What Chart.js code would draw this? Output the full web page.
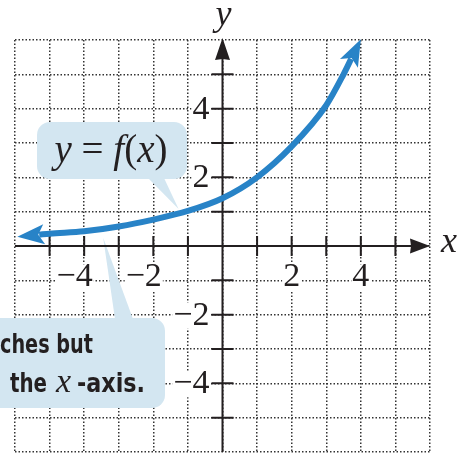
<!DOCTYPE html>
<html>
<head>
<meta charset="utf-8">
<script src="https://cdn.jsdelivr.net/npm/chart.js@4.4.0/dist/chart.umd.min.js"></script>
<style>
  html, body { margin: 0; padding: 0; background: #fff; }
</style>
</head>
<body>
<canvas id="graph" width="469" height="456"></canvas>
<script>
// curve (x, y in grid units)
const curveX = [-5.3, -5, -4, -3, -2, -1, 0, 1, 2, 3, 3.5, 3.72];
const curveY = [0.33, 0.36, 0.43, 0.57, 0.77, 1.02, 1.39, 2.0, 2.9, 4.1, 5.0, 5.45];
const axisTicks = [-5, -4, -3, -2, -1, 1, 2, 3, 4, 5];
const xTickLabels = [-4, -2, 2, 4];
const yTickLabels = [4, 2, -2, -4];

const SERIF = '"Liberation Serif", "Times New Roman", serif';
const SANS = '"Liberation Sans Narrow", "DejaVu Sans Condensed", "Roboto Condensed", sans-serif';
const INK = "#231f20";
const BUBBLE = "#d3e6f1";
const BLUE = "#2883c7";

function arrowHead(ctx, x, y, ux, uy, len, half, back) {
  const nx = -uy, ny = ux;
  ctx.beginPath();
  ctx.moveTo(x + ux * len, y + uy * len);
  ctx.lineTo(x - ux * back + nx * half, y - uy * back + ny * half);
  ctx.lineTo(x + ux * 1, y + uy * 1);
  ctx.lineTo(x - ux * back - nx * half, y - uy * back - ny * half);
  ctx.closePath();
  ctx.fill();
}

function bubble(ctx, x, y, w, h, tail) {
  ctx.fillStyle = BUBBLE;
  ctx.beginPath();
  ctx.roundRect(x, y, w, h, 13);
  ctx.fill();
  ctx.beginPath();
  ctx.moveTo(tail[0], tail[1]);
  ctx.lineTo(tail[2], tail[3]);
  ctx.lineTo(tail[4], tail[5]);
  ctx.closePath();
  ctx.fill();
}

function maskedText(ctx, text, x, y) {
  const w = ctx.measureText(text).width;
  ctx.fillStyle = "#fff";
  ctx.fillRect(x - w - 1, y - 13, w + 2, 26);
  ctx.fillStyle = INK;
  ctx.fillText(text, x, y);
}

const drawing = {
  id: "drawing",
  beforeDatasetsDraw(chart) {
    const ctx = chart.ctx;
    const sx = chart.scales.x, sy = chart.scales.y;
    const px = v => sx.getPixelForValue(v);
    const py = v => sy.getPixelForValue(v);
    const ox = px(0), oy = py(0);
    ctx.save();

    // callout bubbles
    bubble(ctx, 37, 122, 150, 57, [148, 178, 164, 178, px(-1.27), py(1.08)]);
    bubble(ctx, -20, 318, 185, 90, [px(-3.45), py(0.24), 115, 319, 133, 319]);

    // axes
    ctx.strokeStyle = INK;
    ctx.fillStyle = INK;
    ctx.lineWidth = 2;
    ctx.beginPath();
    ctx.moveTo(px(-6), oy); ctx.lineTo(px(6) - 12, oy);
    ctx.moveTo(ox, py(-6)); ctx.lineTo(ox, py(6) + 12);
    axisTicks.forEach(v => {
      ctx.moveTo(px(v), oy - 10); ctx.lineTo(px(v), oy + 10);
      ctx.moveTo(ox - 11, py(v)); ctx.lineTo(ox + 11, py(v));
    });
    ctx.stroke();
    arrowHead(ctx, px(6) - 20, oy, 1, 0, 20, 7.5, 0);
    arrowHead(ctx, ox, py(6) + 20, 0, -1, 22, 7.5, 0);

    // tick labels
    ctx.font = "34px " + SERIF;
    ctx.textBaseline = "middle";
    ctx.textAlign = "right";
    xTickLabels.forEach(v => {
      const digit = String(Math.abs(v));
      const dw = ctx.measureText(digit).width;
      maskedText(ctx, (v < 0 ? "\u2212" : "") + digit, px(v) + dw / 2, py(-1) - 3);
    });
    yTickLabels.forEach(v => {
      maskedText(ctx, (v < 0 ? "\u2212" : "") + Math.abs(v), ox - 13, py(v) + 1);
    });

    // axis titles
    ctx.font = "italic 36px " + SERIF;
    ctx.textAlign = "center";
    ctx.fillText("y", ox + 1, 16);
    ctx.fillText("x", 449, oy - 3);

    // y = f(x)
    const parts = [["y", true], [" = ", false], ["f", true], ["(", false], ["x", true], [")", false]];
    let total = 0;
    const widths = parts.map(([t, it]) => {
      ctx.font = (it ? "italic " : "") + "39px " + SERIF;
      const w = ctx.measureText(t).width;
      total += w;
      return w;
    });
    let cx = 111 - total / 2;
    ctx.textAlign = "left";
    ctx.textBaseline = "alphabetic";
    parts.forEach(([t, it], i) => {
      ctx.font = (it ? "italic " : "") + "39px " + SERIF;
      ctx.fillText(t, cx, 162);
      cx += widths[i];
    });

    // lower callout text (cut at the left edge)
    ctx.font = "bold 27px " + SANS;
    ctx.fillText("ches but", 0, 353, 93);
    ctx.fillText("the", 10, 392, 37);
    ctx.fillText("-axis.", 77, 392, 68);
    ctx.font = "italic 34px " + SERIF;
    ctx.fillText("x", 56, 392);

    ctx.restore();
  },
  afterDatasetsDraw(chart) {
    const ctx = chart.ctx;
    const pts = chart.getDatasetMeta(0).data;
    const first = pts[0], last = pts[pts.length - 1];
    ctx.save();
    ctx.fillStyle = BLUE;
    let dx = last.x - last.cp1x, dy = last.y - last.cp1y, d = Math.hypot(dx, dy);
    arrowHead(ctx, last.x, last.y, dx / d, dy / d, 22, 10, 5);
    dx = first.x - first.cp2x; dy = first.y - first.cp2y; d = Math.hypot(dx, dy);
    arrowHead(ctx, first.x, first.y, dx / d, dy / d, 22, 10, 5);
    ctx.restore();
  }
};

const gridAxis = {
  type: "linear",
  min: -6,
  max: 6,
  ticks: { stepSize: 1, display: false },
  grid: { color: "#333", lineWidth: 1.5, drawTicks: false },
  border: { display: false, dash: [1.5, 2] }
};

new Chart(document.getElementById("graph"), {
  type: "scatter",
  data: {
    datasets: [{
      data: curveX.map((x, i) => ({ x: x, y: curveY[i] })),
      showLine: true,
      borderColor: BLUE,
      borderWidth: 6,
      borderCapStyle: "butt",
      pointRadius: 0,
      cubicInterpolationMode: "monotone",
      fill: false
    }]
  },
  options: {
    responsive: false,
    animation: false,
    devicePixelRatio: 1,
    layout: { padding: { left: 15, right: 39, top: 40, bottom: 4 } },
    plugins: { legend: { display: false }, tooltip: { enabled: false } },
    scales: { x: gridAxis, y: gridAxis }
  },
  plugins: [drawing]
});
</script>
</body>
</html>
